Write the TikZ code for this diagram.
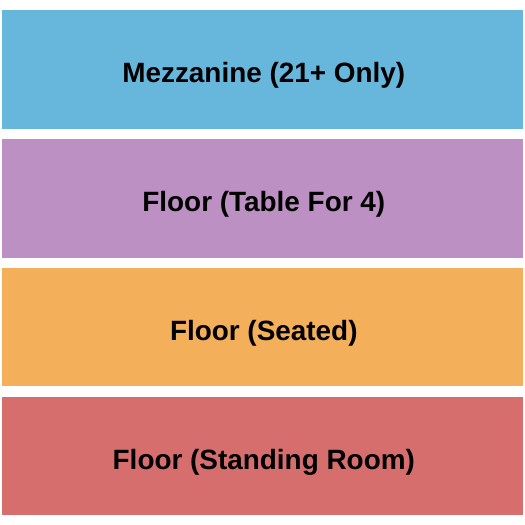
\documentclass[tikz,border=0pt]{standalone}
\usepackage{fontspec}
\setmainfont{Liberation Sans}
\definecolor{cblue}{HTML}{67B6DC}
\definecolor{cpurple}{HTML}{BC90C2}
\definecolor{corange}{HTML}{F4AF5A}
\definecolor{cred}{HTML}{D76E6E}
\begin{document}
\begin{tikzpicture}[x=1pt,y=-1pt,
  sect/.style={fill=#1,draw=none},
  lbl/.style={anchor=base,font=\fontsize{27.9}{30}\selectfont\bfseries,inner sep=0pt}]
\useasboundingbox (0,0) rectangle (525,525);
\fill[white] (0,0) rectangle (525,525);
\path[sect=cblue]   (2,10)    rectangle (523,128.7);
\path[sect=cpurple] (2,139)   rectangle (523,257.5);
\path[sect=corange] (2,267.7) rectangle (523,385.7);
\path[sect=cred]    (2,396.7) rectangle (523,515);
\node[lbl] (m) at (263.8,82.7)  {Mezzanine (21+ Only)};
\node[lbl] (t) at (263.8,211.7) {Floor (Table For 4)};
\node[lbl] (s) at (263.8,340.4) {Floor (Seated)};
\node[lbl] (r) at (263.8,469.4) {Floor (Standing Room)};
\end{tikzpicture}
\end{document}
